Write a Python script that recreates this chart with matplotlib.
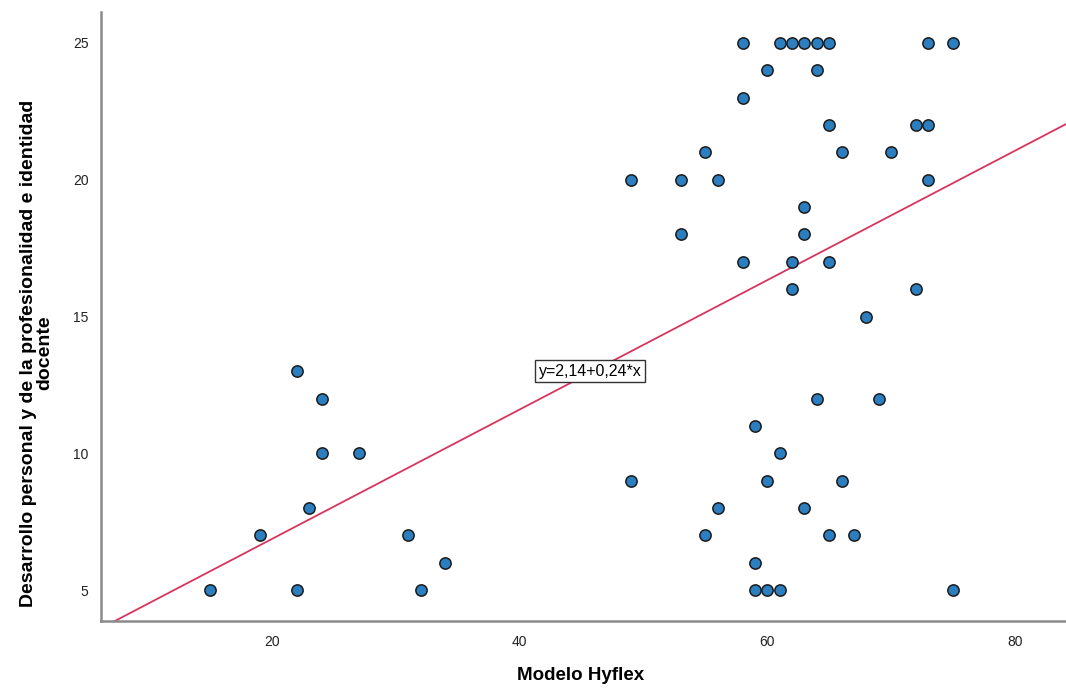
#!/usr/bin/env python3
"""Scatter: Modelo Hyflex vs desarrollo personal, SPSS-style with fit line."""
import matplotlib

matplotlib.use("Agg")
import matplotlib.pyplot as plt  # noqa: E402
import numpy as np  # noqa: E402

plt.rcParams["font.family"] = ["Liberation Sans", "DejaVu Sans"]

# (x, y), grouped by y level
hyflex = [58, 61, 62, 63, 64, 65, 73, 75,
          60, 64,
          58,
          65, 72, 73,
          55, 66, 70,
          49, 53, 56, 73,
          63,
          53, 63,
          58, 62, 65,
          62, 72,
          68,
          22,
          24, 64, 69,
          59,
          24, 27, 61,
          49, 60, 66,
          23, 56, 63,
          19, 31, 55, 65, 67,
          34, 59,
          15, 22, 32, 59, 60, 61, 75]
desarrollo = [25, 25, 25, 25, 25, 25, 25, 25,
              24, 24,
              23,
              22, 22, 22,
              21, 21, 21,
              20, 20, 20, 20,
              19,
              18, 18,
              17, 17, 17,
              16, 16,
              15,
              13,
              12, 12, 12,
              11,
              10, 10, 10,
              9, 9, 9,
              8, 8, 8,
              7, 7, 7, 7, 7,
              6, 6,
              5, 5, 5, 5, 5, 5, 5]
# unrounded fit as drawn; the label shows the rounded version
intercept = 2.14
slope = 0.2365
fit_label = "y=2,14+0,24*x"

XLIM = (6.19, 84.12)
YLIM = (3.87, 26.13)
SPINE = "#8a8a8a"

fig = plt.figure(figsize=(10.66, 6.91), dpi=100, facecolor="white")
ax = fig.add_axes([0.0947, 0.1013, 0.9053, 0.8813])

xs = np.array(XLIM)
ax.plot(xs, intercept + slope * xs, color="#d9345f", lw=1.3, zorder=2)
ax.scatter(hyflex, desarrollo, s=66, color="#2b7fc0", edgecolor="#1b1b1b",
           linewidth=1.1, zorder=3)

ax.text(45.7, 13.0, fit_label, fontsize=11.5, ha="center", va="center", zorder=4,
        bbox=dict(boxstyle="square,pad=0.22", fc="white", ec="#333333", lw=1))

ax.set_xlim(*XLIM); ax.set_ylim(*YLIM)
ax.set_xticks([20, 40, 60, 80]); ax.set_yticks([5, 10, 15, 20, 25])
ax.tick_params(length=0, labelsize=10, colors="#222222")
ax.tick_params(axis="x", pad=10)
ax.tick_params(axis="y", pad=9)
for side in ("top", "right"):
    ax.spines[side].set_visible(False)
for side in ("left", "bottom"):
    ax.spines[side].set_color(SPINE); ax.spines[side].set_linewidth(1.8)

ax.set_xlabel("Modelo Hyflex", fontsize=13.5, fontweight="bold")
ax.xaxis.set_label_coords(0.497, -0.076)
ax.set_ylabel("Desarrollo personal y de la profesionalidad e identidad\ndocente",
              fontsize=14, fontweight="bold", linespacing=0.95)
ax.yaxis.set_label_coords(-0.049, 0.44)

fig.savefig("out.png", dpi=100, facecolor="white")
